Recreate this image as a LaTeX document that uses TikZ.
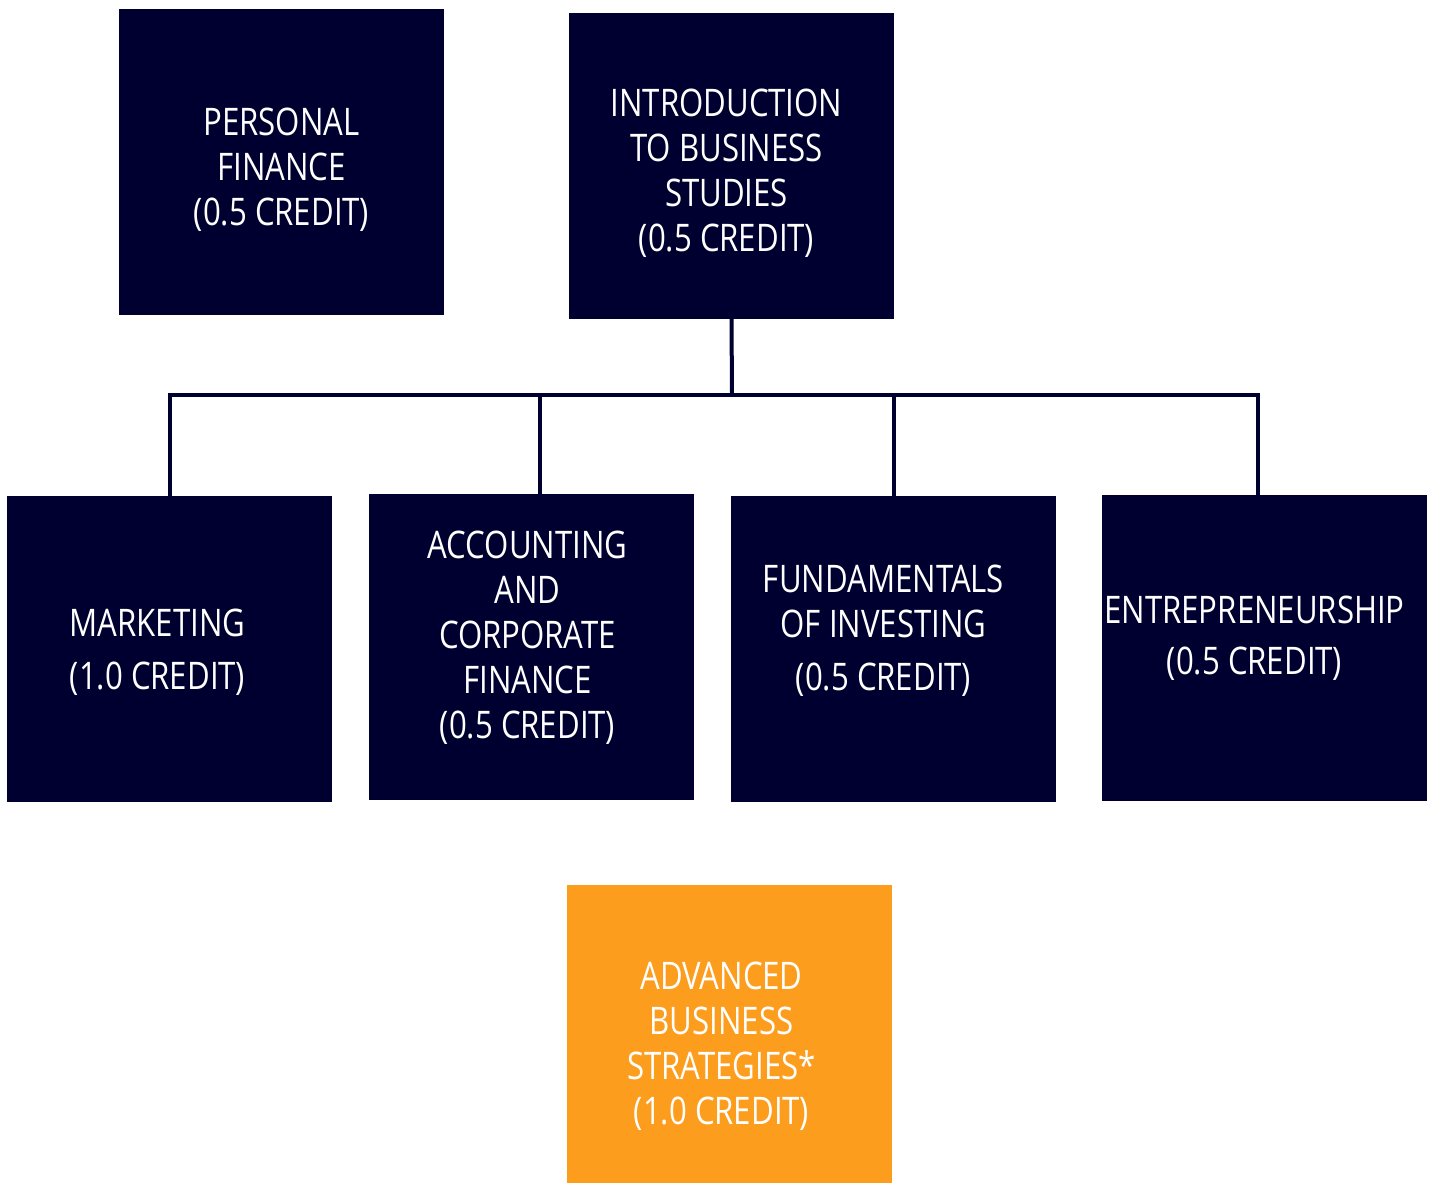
\documentclass[tikz,border=0pt]{standalone}
\usepackage{fontspec}
\setmainfont{Open Sans}[FakeStretch=0.82]
\definecolor{navy}{RGB}{0,0,48}
\definecolor{amber}{RGB}{252,157,29}

\begin{document}
\begin{tikzpicture}[x=1pt, y=-1pt,
  course/.style={fill=navy, minimum width=325pt, minimum height=306pt, inner sep=0pt},
  capstone/.style={course, fill=amber, minimum height=298pt},
  caption/.style={text=white, align=center, inner sep=0pt, font=\fontsize{38}{45}\selectfont},
  link/.style={navy, line width=4pt}]

  \useasboundingbox (0,0) rectangle (1432,1183);

  %% top row
  \node[course] (pfin)  at (281.5, 162) {};
  \node[course] (intro) at (731.5, 166) {};

  %% second row
  \node[course] (mkt)  at ( 169.5, 649) {};
  \node[course] (acc)  at ( 531.5, 647) {};
  \node[course] (fund) at ( 893.5, 649) {};
  \node[course] (ent)  at (1264.5, 648) {};

  %% capstone
  \node[capstone] (adv) at (729.5, 1034) {};

  %% texts
  \node[caption, yshift=-7.5pt] (pfinT) at (pfin.center) {PERSONAL\\FINANCE\\(0.5 CREDIT)};
  \node[caption, xshift=-5pt, yshift=-7.5pt] (introT) at (intro.center) {INTRODUCTION\\TO BUSINESS\\STUDIES\\(0.5 CREDIT)};
  \node[caption, xshift=-12pt, yshift=-3pt] (mktT) at (mkt.center) {MARKETING\\[8pt](1.0 CREDIT)};
  \node[caption, xshift=-4pt, yshift=9.5pt] (accT) at (acc.center) {ACCOUNTING\\AND\\CORPORATE\\FINANCE\\(0.5 CREDIT)};
  \node[caption, xshift=-10pt, yshift=18.5pt] (fundT) at (fund.center) {FUNDAMENTALS\\OF INVESTING\\[8pt](0.5 CREDIT)};
  \node[caption, xshift=-10pt, yshift=9.5pt] (entT) at (ent.center) {ENTREPRENEURSHIP\\[6pt](0.5 CREDIT)};
  \node[caption, xshift=-8pt, yshift=-12pt] (advT) at (adv.center) {ADVANCED\\BUSINESS\\STRATEGIES*\\(1.0 CREDIT)};

  %% connectors
  \coordinate (hub) at (732, 395);
  \draw[link] (intro.south) -- (hub);
  \draw[link] (mkt.north) -- (mkt.north |- hub) -- ([xshift=-6.5pt]ent.north |- hub) -- ([xshift=-6.5pt]ent.north);
  \draw[link] ([xshift=8.5pt]acc.north) -- ([xshift=8.5pt]acc.north |- hub);
  \draw[link] (fund.north) -- (fund.north |- hub);
\end{tikzpicture}
\end{document}
